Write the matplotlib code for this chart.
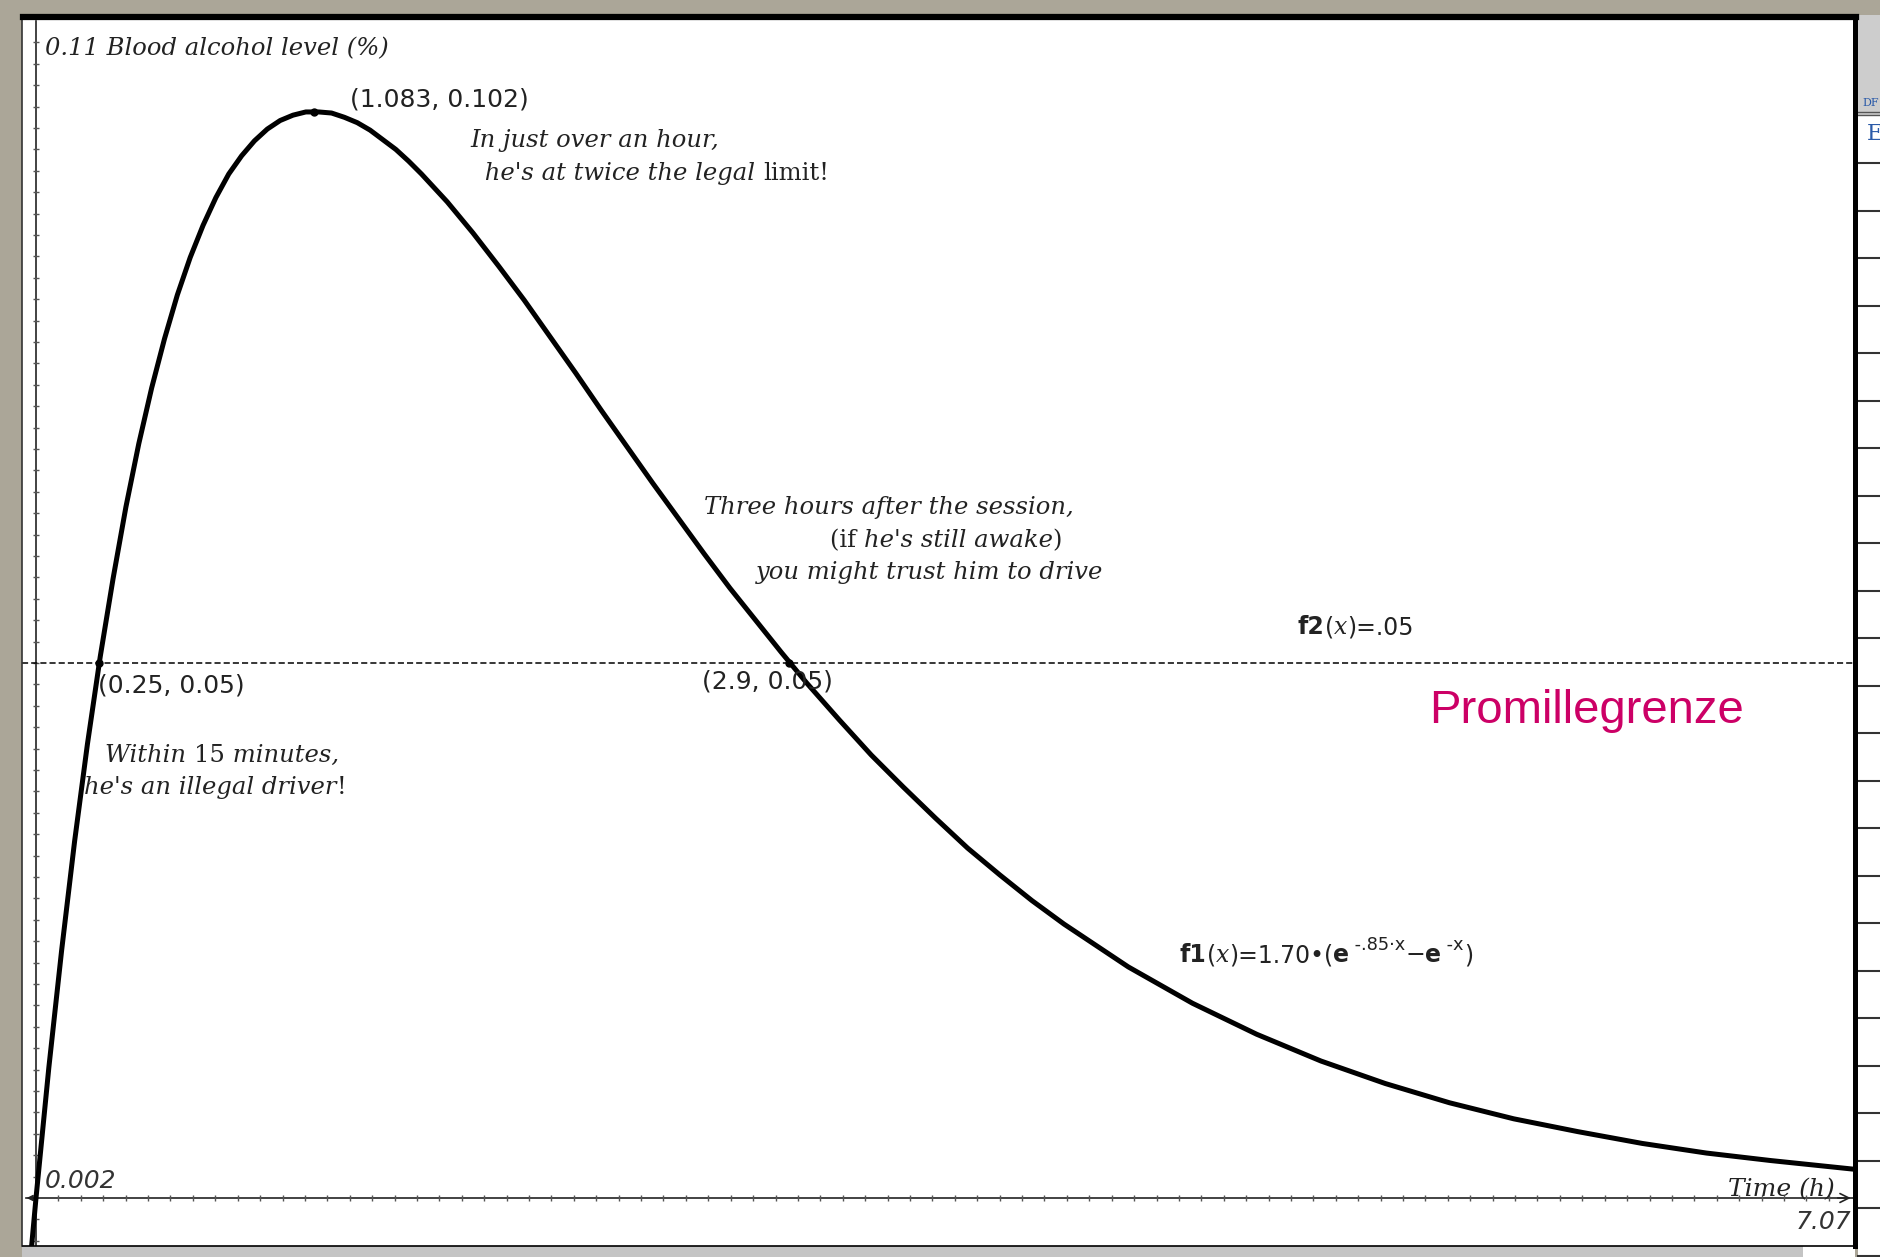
import numpy as np
import matplotlib.pyplot as plt
import matplotlib.patches as mpatches

# Curve points: f1(x) = 1.70*(e^(-.85x) - e^(-x))
hours = [-0.03, 0.0, 0.05, 0.1, 0.15, 0.2, 0.25, 0.3, 0.35, 0.4, 0.45, 0.5, 0.55, 0.6,
         0.65, 0.7, 0.75, 0.8, 0.85, 0.9, 0.95, 1.0, 1.05, 1.1, 1.15, 1.2, 1.25, 1.3,
         1.35, 1.4, 1.45, 1.5, 1.6, 1.7, 1.8, 1.9, 2.0, 2.1, 2.2, 2.3, 2.4, 2.5, 2.6,
         2.7, 2.8, 2.9, 3.0, 3.125, 3.25, 3.375, 3.5, 3.625, 3.75, 3.875, 4.0, 4.25,
         4.5, 4.75, 5.0, 5.25, 5.5, 5.75, 6.0, 6.25, 6.5, 6.75, 7.07]
level = [-0.0079, 0.0, 0.0122, 0.0232, 0.0333, 0.0424, 0.0506, 0.0579, 0.0646, 0.0705,
         0.0757, 0.0803, 0.0844, 0.0879, 0.0909, 0.0935, 0.0957, 0.0974, 0.0988, 0.0999,
         0.1007, 0.1012, 0.1015, 0.1015, 0.1014, 0.1010, 0.1005, 0.0998, 0.0989, 0.0980,
         0.0969, 0.0957, 0.0931, 0.0902, 0.0871, 0.0839, 0.0805, 0.0771, 0.0736, 0.0702,
         0.0668, 0.0635, 0.0602, 0.0570, 0.0540, 0.0510, 0.0481, 0.0447, 0.0414, 0.0384,
         0.0355, 0.0327, 0.0302, 0.0278, 0.0256, 0.0216, 0.0182, 0.0153, 0.0128, 0.0107,
         0.0089, 0.0074, 0.0062, 0.0051, 0.0042, 0.0035, 0.0027]

legal_limit = 0.05

# marked points (position on curve) and their labels
point_x = [0.247, 1.083, 2.93]
point_y = [0.05, 0.1015, 0.05]
point_labels = ["(0.25, 0.05)", "(1.083, 0.102)", "(2.9, 0.05)"]

x_max_label = "7.07"
y_max_label = "0.11"

W, H = 1881, 1257
fig = plt.figure(figsize=(W / 100, H / 100), dpi=100)
fig.patch.set_facecolor("#aba698")

# background overlay in pixel units (frame of the calculator screenshot)
bg = fig.add_axes([0, 0, 1, 1], zorder=0)
bg.set_xlim(0, W)
bg.set_ylim(H, 0)
bg.axis("off")
bg.add_patch(mpatches.Rectangle((1858, 15), 23, 100, color="#cdcdcd", lw=0))
bg.add_patch(mpatches.Rectangle((1858, 115), 23, H - 115, color="white", lw=0))
for yy in np.arange(163, H, 47.5):
    bg.plot([1858, W], [yy, yy], color="#333333", lw=1.5)
bg.plot([1858, W], [112, 112], color="#555555", lw=1)
bg.plot([1858, W], [115, 115], color="#555555", lw=1)
bg.text(1867, 140, "E", color="#2a5aa8", fontsize=16, family="DejaVu Serif")
bg.text(1862, 106, "DF", color="#2a5aa8", fontsize=8, family="DejaVu Serif")
bg.add_patch(mpatches.Rectangle((22, 1246), 1781, 11, color="#c4c4c4", lw=0))
bg.add_patch(mpatches.Rectangle((1803, 1246), 52, 11, color="white", lw=0))

# main graph window
x0_px, px_per_x = 36.0, 257.0
y0_px, px_per_y = 1198.0, 10700.0
left_px, right_px, top_px, bot_px = 22.5, 1855.5, 17.0, 1245.5
ax = fig.add_axes([left_px / W, (H - bot_px) / H, (right_px - left_px) / W, (bot_px - top_px) / H],
                  zorder=1)
ax.set_xlim((left_px - x0_px) / px_per_x, (right_px - x0_px) / px_per_x)
ax.set_ylim((y0_px - bot_px) / px_per_y, (y0_px - top_px) / px_per_y)
ax.set_facecolor("white")
ax.set_xticks([])
ax.set_yticks([])
ax.spines["top"].set_linewidth(4.5)
ax.spines["right"].set_linewidth(3.6)
ax.spines["left"].set_linewidth(1.2)
ax.spines["left"].set_color("#333333")
ax.spines["bottom"].set_linewidth(1.2)

xmin, xmax = ax.get_xlim()
ymin, ymax = ax.get_ylim()
axis_col = "#222222"

# axes with tick marks
ax.plot([xmin + 0.015, 7.07], [0, 0], color=axis_col, lw=1.2, zorder=2)
ax.plot([0, 0], [ymin, 0.11], color=axis_col, lw=1.2, zorder=2)
ax.annotate("", xy=(0, 0.1106), xytext=(0, 0.108),
            arrowprops=dict(arrowstyle="-|>", color=axis_col, lw=1.2, mutation_scale=12))
ax.annotate("", xy=(7.072, 0), xytext=(7.0, 0),
            arrowprops=dict(arrowstyle="->", color=axis_col, lw=1.2, mutation_scale=16))
ax.annotate("", xy=(xmin + 0.005, 0), xytext=(xmin + 0.04, 0),
            arrowprops=dict(arrowstyle="-|>", color=axis_col, lw=1.0, mutation_scale=9))
xt = np.arange(0.0872, 7.05, 0.0872)
ax.plot(xt, np.zeros_like(xt), ls="none", marker="|", ms=5, mew=1, color="#555555", zorder=2)
yt = np.concatenate([np.arange(-0.004, 0, 0.002), np.arange(0.002, 0.1095, 0.002)])
ax.plot(np.zeros_like(yt), yt, ls="none", marker="_", ms=5, mew=1, color="#555555", zorder=2)

# legal limit line f2 and curve f1
ax.axhline(legal_limit, color="black", lw=1.1, ls=(0, (4, 2)), zorder=2)
ax.plot(hours, level, color="black", lw=3.6, solid_joinstyle="round", zorder=3)
ax.plot(point_x, point_y, ls="none", marker="o", ms=5, color="black", zorder=4)


def px(xp, yp):
    return (xp - x0_px) / px_per_x, (y0_px - yp) / px_per_y


STYLES = {
    "it": dict(family="DejaVu Serif", style="italic"),
    "rm": dict(family="DejaVu Serif"),
    "sf": dict(family="DejaVu Sans"),
    "bf": dict(family="DejaVu Sans", weight="bold"),
}


def rich(xp, yp, pieces, size=17.5, color="#222222", ha="left"):
    # chain text pieces with different styles on one line
    prev = None
    for p in pieces:
        s, style = p[0], p[1]
        scale = p[2] if len(p) > 2 else 1.0
        dy = p[3] if len(p) > 3 else 0
        kw = dict(fontsize=size * scale, color=color, zorder=5, **STYLES[style])
        if prev is None:
            prev = ax.text(*px(xp, yp), s, ha=ha, va="baseline", **kw)
        else:
            prev = ax.annotate(s, xy=(1, 0), xycoords=prev, xytext=(0, dy),
                               textcoords="offset points", ha="left", va="bottom", **kw)


rich(45, 55, [(y_max_label + " Blood alcohol level (%)", "it")])
rich(470, 147, [("In just over an hour,", "it")])
rich(477, 180, [(" he's at twice the legal ", "it"), ("limit!", "rm")])
rich(704, 514, [("Three hours after the session,", "it")])
rich(830, 547, [("(if ", "rm"), ("he's still awake", "it"), (")", "rm")])
rich(756, 579, [("you might trust him to drive", "it")])
rich(105, 762, [("Within ", "it"), ("15", "rm"), (" minutes,", "it")])
rich(84, 794, [("he's an illegal driver", "it"), ("!", "rm")])

# coordinate labels of the marked points
label_pos = [(98, 693), (350, 106), (702, 688)]
for (lx, ly), lab in zip(label_pos, point_labels):
    rich(lx, ly, [(lab, "sf")], size=18)

rich(1298, 634, [("f2", "bf"), ("(", "sf"), ("x", "it"), (")=.05", "sf")], size=17)
rich(1180, 962, [("f1", "bf"), ("(", "sf"), ("x", "it"), (")=1.70•(", "sf"), ("e", "bf"),
                 (" -.85·x", "sf", 0.75, 9), ("−", "sf", 1.0, -9), ("e", "bf"),
                 (" -x", "sf", 0.75, 9), (")", "sf", 1.0, -9)], size=17)

ax.text(*px(1429, 723), "Promillegrenze", ha="left", va="baseline", family="Liberation Sans",
        fontsize=34, color="#cc0066", zorder=5)

ax.text(*px(45, 1188), "0.002", ha="left", va="baseline", family="DejaVu Sans", style="italic",
        fontsize=18, color="#333333", zorder=5)
rich(1728, 1196, [("Time (h)", "it")], size=18)
ax.text(*px(1851, 1229), x_max_label, ha="right", va="baseline", family="DejaVu Sans",
        style="italic", fontsize=18, color="#333333", zorder=5)

fig.savefig("out.png", dpi=100, facecolor=fig.get_facecolor())
